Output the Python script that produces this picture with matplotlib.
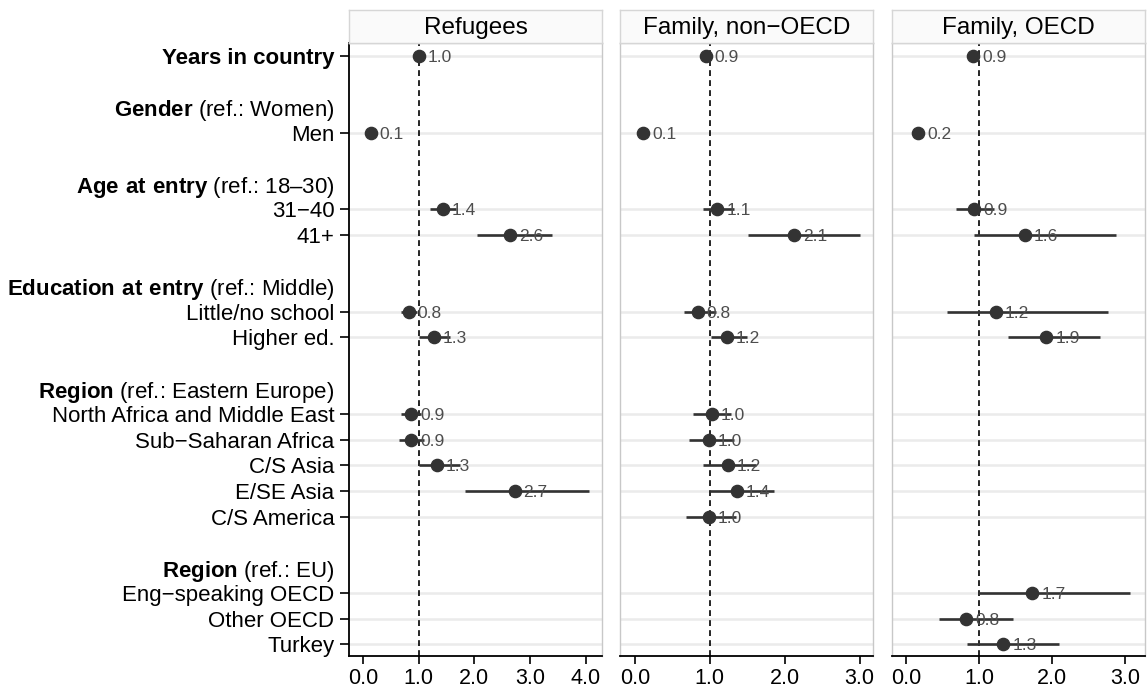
import numpy as np
import matplotlib
matplotlib.use("Agg")
import matplotlib.pyplot as plt

plt.rcParams['font.family'] = ['Liberation Sans', 'DejaVu Sans']
plt.rcParams['mathtext.fontset'] = 'custom'
plt.rcParams['mathtext.rm'] = 'Liberation Sans'
plt.rcParams['mathtext.bf'] = 'Liberation Sans:bold'

nan = np.nan

# groups of rows: (bold header, reference note), items
groups = [
    (None, None, ["Years in country"]),
    ("Gender", "(ref.: Women)", ["Men"]),
    ("Age at entry", "(ref.: 18–30)", ["31−40", "41+"]),
    ("Education at entry", "(ref.: Middle)", ["Little/no school", "Higher ed."]),
    ("Region", "(ref.: Eastern Europe)",
     ["North Africa and Middle East", "Sub−Saharan Africa", "C/S Asia", "E/SE Asia", "C/S America"]),
    ("Region", "(ref.: EU)", ["Eng−speaking OECD", "Other OECD", "Turkey"]),
]

panels = ["Refugees", "Family, non−OECD", "Family, OECD"]

# estimates and confidence intervals, one entry per item row
refugees_est = [1.00, 0.14, 1.43, 2.64, 0.82, 1.27, 0.86, 0.86, 1.33, 2.72, nan, nan, nan, nan]
refugees_lo = [0.97, 0.12, 1.20, 2.04, 0.69, 1.00, 0.68, 0.65, 1.00, 1.83, nan, nan, nan, nan]
refugees_hi = [1.03, 0.17, 1.67, 3.40, 0.97, 1.56, 1.05, 1.10, 1.74, 4.05, nan, nan, nan, nan]

nonoecd_est = [0.945, 0.11, 1.10, 2.12, 0.84, 1.23, 1.03, 0.99, 1.24, 1.36, 0.985, nan, nan, nan]
nonoecd_lo = [0.92, 0.09, 0.91, 1.51, 0.65, 1.01, 0.77, 0.72, 0.91, 1.00, 0.68, nan, nan, nan]
nonoecd_hi = [0.97, 0.14, 1.32, 3.00, 1.08, 1.50, 1.28, 1.32, 1.62, 1.86, 1.35, nan, nan, nan]

oecd_est = [0.92, 0.17, 0.93, 1.63, 1.23, 1.92, nan, nan, nan, nan, nan, 1.73, 0.82, 1.33]
oecd_lo = [0.90, 0.15, 0.68, 0.93, 0.56, 1.40, nan, nan, nan, nan, nan, 0.98, 0.45, 0.84]
oecd_hi = [0.95, 0.20, 1.20, 2.87, 2.77, 2.65, nan, nan, nan, nan, nan, 3.07, 1.46, 2.10]

panel_data = [(refugees_est, refugees_lo, refugees_hi),
              (nonoecd_est, nonoecd_lo, nonoecd_hi),
              (oecd_est, oecd_lo, oecd_hi)]
xlims = [(-0.25, 4.29), (-0.2, 3.18), (-0.19, 3.27)]
xticks = [[0, 1, 2, 3, 4], [0, 1, 2, 3], [0, 1, 2, 3]]

# build row layout
tick_pos, tick_lab, is_header, item_pos = [], [], [], []
r = 0
for gi, (head, note, items) in enumerate(groups):
    if gi > 0:
        r += 1  # blank spacer
    if head is not None:
        tick_pos.append(r)
        tick_lab.append(r"$\mathbf{" + head.replace(" ", r"\ ") + "}$ " + note)
        is_header.append(True)
        r += 1
    for it in items:
        tick_pos.append(r)
        tick_lab.append(it)
        is_header.append(False)
        item_pos.append(r)
        r += 1
nrows = r

fig = plt.figure(figsize=(11.48, 6.9), dpi=100)
lefts = [349 / 1148, 620 / 1148, 892 / 1148]
W = 253 / 1148
bottom = 1 - 656 / 690
height = (656 - 43) / 690

dark = '#333333'
for i, name in enumerate(panels):
    ax = fig.add_axes([lefts[i], bottom, W, height])
    est, lo, hi = [np.array(a, dtype=float) for a in panel_data[i]]
    for y in item_pos:
        ax.axhline(y, color='#ebebeb', lw=1.8, zorder=0)
    ax.axvline(1, color='black', lw=1.2, ls=(0, (3.5, 2.5)), zorder=1)
    ys = np.array(item_pos)
    ok = ~np.isnan(est)
    ax.hlines(ys[ok], lo[ok], hi[ok], color=dark, lw=1.9, zorder=2)
    ax.plot(est[ok], ys[ok], 'o', color=dark, ms=8.8, zorder=3)
    for x, y in zip(est[ok], ys[ok]):
        ax.annotate(f"{x:.1f}", (x, y), xytext=(6.5, 0), textcoords='offset points',
                    ha='left', va='center_baseline', fontsize=12.5, color='#4d4d4d', zorder=4)
    ax.set_xlim(*xlims[i])
    ax.set_ylim(nrows - 0.55, -0.5)
    ax.set_xticks(xticks[i])
    ax.set_xticklabels([f"{t:.1f}" for t in xticks[i]], fontsize=15.5)
    ax.tick_params(axis='x', length=6, width=1.2, color='black', pad=3)
    for s in ['top', 'right']:
        ax.spines[s].set_color('#c8c8c8')
        ax.spines[s].set_linewidth(1)
    ax.spines['bottom'].set_color('black')
    ax.spines['bottom'].set_linewidth(1.3)
    if i == 0:
        ax.spines['left'].set_color('black')
        ax.spines['left'].set_linewidth(1.3)
        ax.set_yticks(tick_pos)
        ax.set_yticklabels(tick_lab, fontsize=16)
        ax.tick_params(axis='y', length=6.5, width=1.2, color='black', pad=4)
        for t, h in zip(ax.yaxis.get_major_ticks(), is_header):
            if h:
                t.tick1line.set_visible(False)
        ax.get_yticklabels()[0].set_fontweight('bold')
    else:
        ax.spines['left'].set_color('#c8c8c8')
        ax.spines['left'].set_linewidth(1)
        ax.set_yticks([])
    # facet strip
    sax = fig.add_axes([lefts[i], 1 - 43 / 690, W, 33 / 690])
    sax.set_facecolor('#fafafa')
    sax.set_xticks([])
    sax.set_yticks([])
    for s in sax.spines.values():
        s.set_color('#d6d6d6')
        s.set_linewidth(1)
    sax.text(0.5, 0.45, name, ha='center', va='center', fontsize=17.5, transform=sax.transAxes)

fig.savefig("out.png", dpi=100)
